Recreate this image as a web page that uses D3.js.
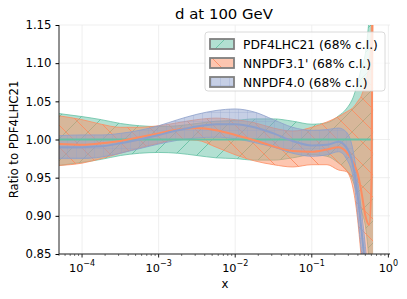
<!DOCTYPE html>
<html><head><meta charset="utf-8">
<script src="https://cdn.jsdelivr.net/npm/d3@7"></script>
<style>body{margin:0;background:#fff}svg text{font-family:'DejaVu Sans';}</style>
</head><body><svg id="c" width="407" height="299" font-family="DejaVu Sans"></svg>
<script>
const xs = [5e-5,1e-4,1.78e-4,3.16e-4,5.62e-4,1e-3,1.78e-3,3.16e-3,5.62e-3,1e-2,1.78e-2,3.16e-2,5.62e-2,0.1,0.158,0.224,0.282,0.355,0.398,0.447,0.501,0.562,0.603,0.631];
const pdfUp  = [1.034,1.030,1.026,1.021,1.018,1.017,1.018,1.021,1.024,1.025,1.027,1.027,1.024,1.020,1.022,1.031,1.040,1.058,1.075,1.095,1.113,1.16,1.20,1.25];
const pdfLo  = [0.966,0.970,0.974,0.979,0.982,0.983,0.982,0.979,0.976,0.975,0.973,0.973,0.976,0.980,0.978,0.969,0.960,0.942,0.925,0.905,0.887,0.84,0.80,0.75];
const pdfMid = [1,1,1,1,1,1,1,1,1,1,1,1,1,1,1,1,1,1,1,1,1,1,1,1];
const nn31Mid = [0.994,0.993,0.995,0.998,1.003,1.008,1.013,1.015,1.012,1.006,0.999,0.991,0.985,0.984,0.987,0.990,0.984,0.968,0.955,0.930,0.900,0.888,0.950,1.30];
const nn31Up  = [1.031,1.026,1.020,1.016,1.016,1.018,1.022,1.026,1.028,1.026,1.022,1.015,1.011,1.016,1.023,1.030,1.036,1.043,1.050,1.058,1.075,1.100,1.160,1.40];
const nn31Lo  = [0.966,0.969,0.975,0.982,0.989,0.995,1.000,0.999,0.990,0.980,0.972,0.967,0.964,0.967,0.967,0.960,0.958,0.930,0.894,0.840,0.780,0.700,0.600,0.50];
const nn40X   = [5e-5,1e-4,1.78e-4,3.16e-4,5.62e-4,1e-3,1.78e-3,3.16e-3,5.62e-3,1e-2,1.78e-2,3.16e-2,5.62e-2,0.1,0.158,0.224,0.282,0.355,0.398,0.447,0.501,0.562];
const nn40Mid = [0.990,0.990,0.991,0.995,1.000,1.006,1.012,1.017,1.020,1.020,1.016,1.008,0.998,0.992,0.993,0.997,0.990,0.960,0.925,0.880,0.830,0.78];
const nn40Up  = [1.005,1.006,1.006,1.008,1.012,1.018,1.026,1.033,1.038,1.040,1.036,1.026,1.016,1.012,1.013,1.015,1.010,0.980,0.945,0.905,0.860,0.80];
const nn40Lo  = [0.975,0.975,0.977,0.982,0.988,0.994,0.999,1.002,1.003,1.001,0.996,0.990,0.982,0.978,0.980,0.984,0.975,0.945,0.900,0.850,0.800,0.75];
const yTicks = [0.85,0.90,0.95,1.00,1.05,1.10,1.15];
const xTickExp = [-4,-3,-2,-1,0];
const labels = ["PDF4LHC21 (68% c.l.)","NNPDF3.1' (68% c.l.)","NNPDF4.0 (68% c.l.)"];
const colors = ["#66c2a5","#fc8d62","#8da0cb"];

const svg = d3.select("#c");
const L=59,R=390,T=25,B=254;
const x = d3.scaleLog().domain([5e-5,1.05]).range([L,R]);
const y = d3.scaleLinear().domain([0.85,1.15]).range([B,T]);

const defs = svg.append("defs");
defs.append("clipPath").attr("id","clip").append("rect").attr("x",L).attr("y",T).attr("width",R-L).attr("height",B-T);
function pat(id, col, kind){
  const s = kind==="grid"?9:22;
  const p = defs.append("pattern").attr("id",id).attr("patternUnits","userSpaceOnUse").attr("width",s).attr("height",s);
  if(kind==="/"){ p.append("path").attr("d",`M0,${s} L${s},0 M${-s/2},${s/2} L${s/2},${-s/2} M${s/2},${s*1.5} L${s*1.5},${s/2}`).attr("stroke",col).attr("stroke-width",0.9); }
  else if(kind==="\\"){ p.append("path").attr("d",`M0,0 L${s},${s} M${-s/2},${s/2} L${s/2},${s*1.5} M${s/2},${-s/2} L${s*1.5},${s/2}`).attr("stroke",col).attr("stroke-width",0.9); }
  else { p.append("path").attr("d",`M0,${s/2} L${s},${s/2} M${s/2},0 L${s/2},${s}`).attr("stroke",col).attr("stroke-width",0.8).attr("stroke-opacity",0.35); }
}
pat("h0",colors[0],"/"); pat("h1",colors[1],"\\"); pat("h2",colors[2],"grid");

// grid
const g = svg.append("g");
yTicks.forEach(v=>g.append("line").attr("x1",L).attr("x2",R).attr("y1",y(v)).attr("y2",y(v)).attr("stroke","#ebebeb").attr("stroke-width",0.8));
xTickExp.forEach(e=>g.append("line").attr("x1",x(Math.pow(10,e))).attr("x2",x(Math.pow(10,e))).attr("y1",T).attr("y2",B).attr("stroke","#ebebeb").attr("stroke-width",0.8));

const plot = svg.append("g").attr("clip-path","url(#clip)");
const sets = [
  {X:xs, up:pdfUp, lo:pdfLo, mid:pdfMid},
  {X:xs, up:nn31Up, lo:nn31Lo, mid:nn31Mid},
  {X:nn40X, up:nn40Up, lo:nn40Lo, mid:nn40Mid}
];
const area = d3.area().x(d=>x(d[0])).y0(d=>y(d[1])).y1(d=>y(d[2])).curve(d3.curveMonotoneX);
const line = d3.line().x(d=>x(d[0])).y(d=>y(d[1])).curve(d3.curveMonotoneX);
sets.forEach((s,i)=>{
  const pts = s.X.map((v,j)=>[v,s.lo[j],s.up[j]]);
  plot.append("path").attr("d",area(pts)).attr("fill",colors[i]).attr("fill-opacity",0.5);
  plot.append("path").attr("d",area(pts)).attr("fill",`url(#h${i})`);
  plot.append("path").attr("d",line(s.X.map((v,j)=>[v,s.up[j]]))).attr("fill","none").attr("stroke",colors[i]).attr("stroke-width",1).attr("stroke-opacity",0.8);
  plot.append("path").attr("d",line(s.X.map((v,j)=>[v,s.lo[j]]))).attr("fill","none").attr("stroke",colors[i]).attr("stroke-width",1).attr("stroke-opacity",0.8);
});
sets.forEach((s,i)=>{
  plot.append("path").attr("d",line(s.X.map((v,j)=>[v,s.mid[j]]))).attr("fill","none").attr("stroke",colors[i]).attr("stroke-width",2);
});

// axes
const yAx = svg.append("g").attr("transform",`translate(${L},0)`)
  .call(d3.axisLeft(y).tickValues(yTicks).tickFormat(d3.format(".2f")).tickSize(3.5).tickPadding(4));
yAx.attr("font-family","DejaVu Sans").attr("font-size",11.7);
yAx.select(".domain").attr("stroke","#222").attr("d",`M0,${T}V${B}`);
yAx.selectAll("text").attr("fill","#000");
const minors=[];
for(let e=-5;e<=0;e++) for(let k=2;k<=9;k++){const v=k*Math.pow(10,e); if(v>=5e-5&&v<=1.05) minors.push(v);}
const xa = svg.append("g").attr("transform",`translate(0,${B})`);
xa.append("line").attr("x1",L).attr("x2",R).attr("stroke","#222");
minors.forEach(v=>xa.append("line").attr("x1",x(v)).attr("x2",x(v)).attr("y2",2).attr("stroke","#222").attr("stroke-width",0.6));
xTickExp.forEach(e=>{
  const px = x(Math.pow(10,e));
  xa.append("line").attr("x1",px).attr("x2",px).attr("y2",3.5).attr("stroke","#222");
  const t = xa.append("text").attr("x",px).attr("y",18).attr("text-anchor","middle").attr("font-size",11.3);
  t.append("tspan").text("10");
  t.append("tspan").attr("dy",-6).attr("font-size",8).text(e===0?"0":"\u2212"+(-e));
});
svg.append("text").attr("x",225).attr("y",288).attr("text-anchor","middle").attr("font-size",11.7).text("x");
svg.append("text").attr("transform",`translate(18,139.5) rotate(-90)`).attr("text-anchor","middle").attr("font-size",11.7).text("Ratio to PDF4LHC21");
svg.append("text").attr("x",224).attr("y",19).attr("text-anchor","middle").attr("font-size",14.9).text("d at 100 GeV");

// legend
const lg = svg.append("g");
lg.append("rect").attr("x",205).attr("y",32).attr("width",180).attr("height",59).attr("rx",3)
  .attr("fill","#fff").attr("fill-opacity",0.8).attr("stroke","#d0d0d0").attr("stroke-width",0.8);
labels.forEach((lab,i)=>{
  const cy = 44 + i*19;
  lg.append("rect").attr("x",210).attr("y",cy-5).attr("width",24).attr("height",10).attr("fill",colors[i]).attr("fill-opacity",0.5);
  lg.append("rect").attr("x",210).attr("y",cy-5).attr("width",24).attr("height",10).attr("fill",`url(#h${i})`).attr("stroke","#7f7f7f").attr("stroke-width",1.8);
  lg.append("text").attr("x",243).attr("y",cy+4.5).attr("font-size",12.3).text(lab);
});
</script></body></html>
